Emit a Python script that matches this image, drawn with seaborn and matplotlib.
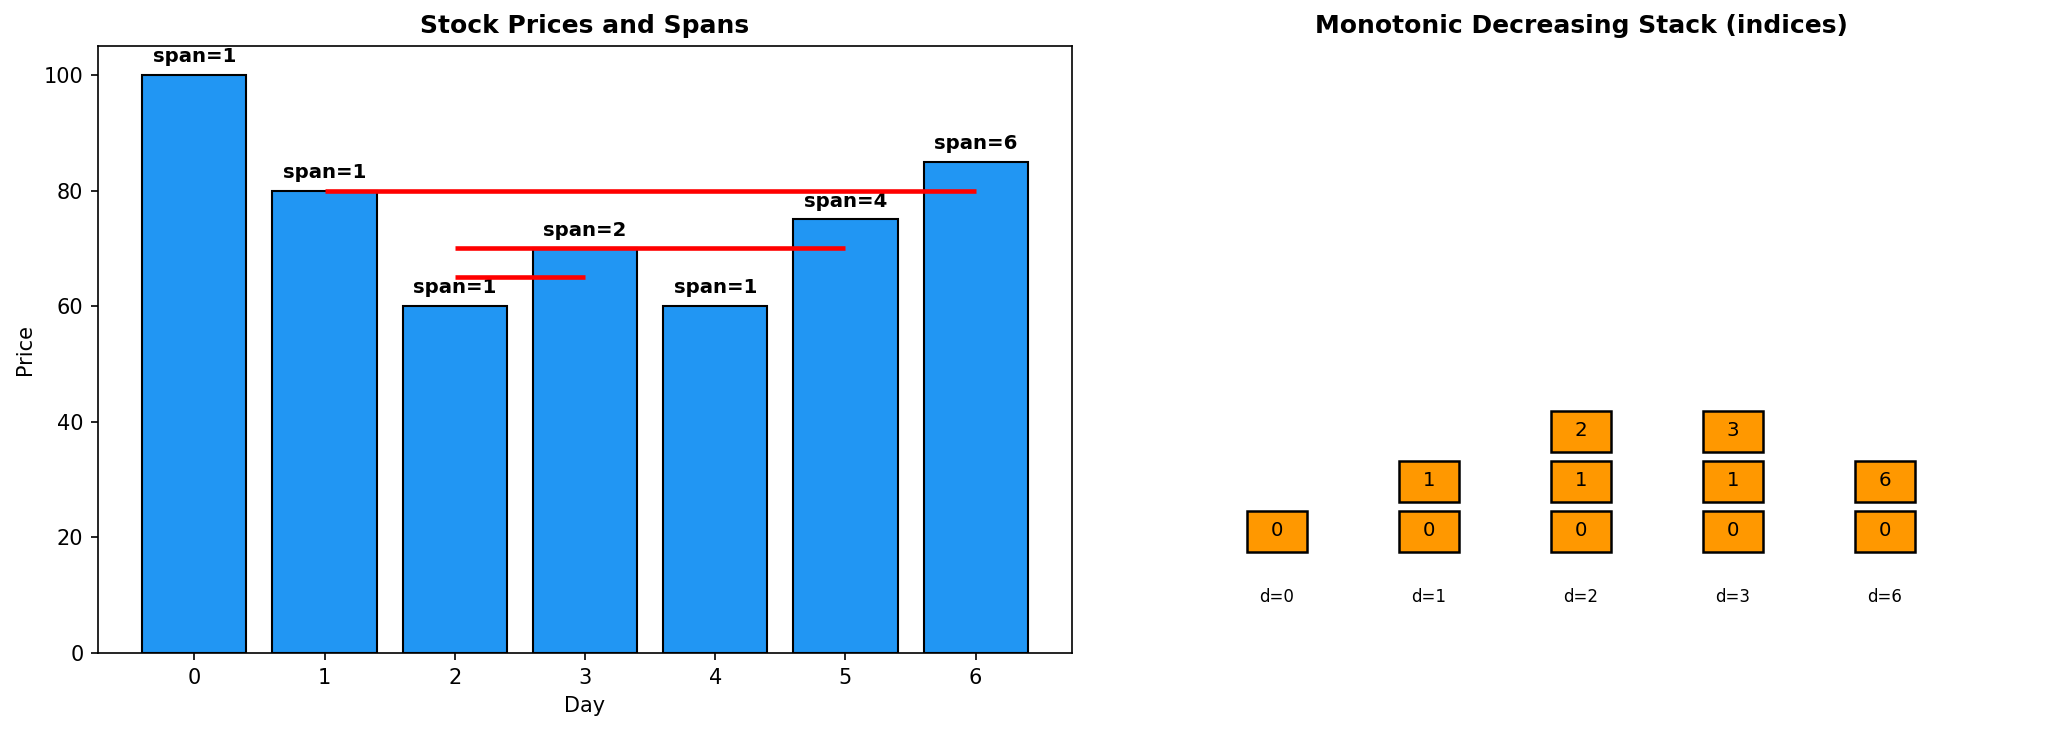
import matplotlib
matplotlib.use("Agg")
import matplotlib.pyplot as plt
import seaborn as sns
from matplotlib.patches import Rectangle

# data
days = [0, 1, 2, 3, 4, 5, 6]
prices = [100, 80, 60, 70, 60, 75, 85]
spans = [1, 1, 1, 2, 1, 4, 6]

# red span segments: (start day, end day, price level)
seg_start = [1, 2, 2]
seg_end = [6, 5, 3]
seg_level = [80, 70, 65]

# stack snapshots
snap_days = [0, 1, 2, 3, 6]
snap_stacks = [[0], [0, 1], [0, 1, 2], [0, 1, 3], [0, 6]]

BLUE = "#2196F3"
ORANGE = "#FF9800"

fig = plt.figure(figsize=(2052 / 150, 732 / 150), dpi=150)
ax1 = fig.add_axes([98 / 2052, 1 - 653 / 732, 974 / 2052, 607 / 732])
ax2 = fig.add_axes([1125 / 2052, 1 - 653 / 732, 912 / 2052, 607 / 732])

# left: prices + spans
sns.barplot(x=days, y=prices, color=BLUE, saturation=1, edgecolor="black",
            linewidth=1.0, width=0.8, ax=ax1)
for i, (p, s) in enumerate(zip(prices, spans)):
    ax1.text(i, p + 1.5, f"span={s}", ha="center", va="bottom",
             fontsize=9.5, fontweight="bold")
for a, b, lv in zip(seg_start, seg_end, seg_level):
    ax1.plot([a, b], [lv, lv], color="red", lw=2.2, zorder=5,
             solid_capstyle="butt")
ax1.set_xlim(-0.74, 6.74)
ax1.set_ylim(0, 105)
ax1.set_xlabel("Day", fontsize=10)
ax1.set_ylabel("Price", fontsize=10)
ax1.set_title("Stock Prices and Spans", fontsize=12, fontweight="bold")
ax1.tick_params(labelsize=10)

# right: stack
bw, bh = 0.4, 0.82
for col, (d, stack) in enumerate(zip(snap_days, snap_stacks)):
    for row, idx in enumerate(stack):
        ax2.add_patch(Rectangle((col - bw / 2, row - bh / 2), bw, bh,
                                facecolor=ORANGE, edgecolor="black", lw=1.2))
        ax2.text(col, row, str(idx), ha="center", va="center", fontsize=9.5)
    ax2.text(col, -1.33, f"d={d}", ha="center", va="center", fontsize=8)
ax2.set_xlim(-1, 5)
ax2.set_ylim(-2.44, 9.7)
ax2.axis("off")
ax2.set_title("Monotonic Decreasing Stack (indices)", fontsize=12, fontweight="bold")

fig.savefig("out.png", dpi=150)
